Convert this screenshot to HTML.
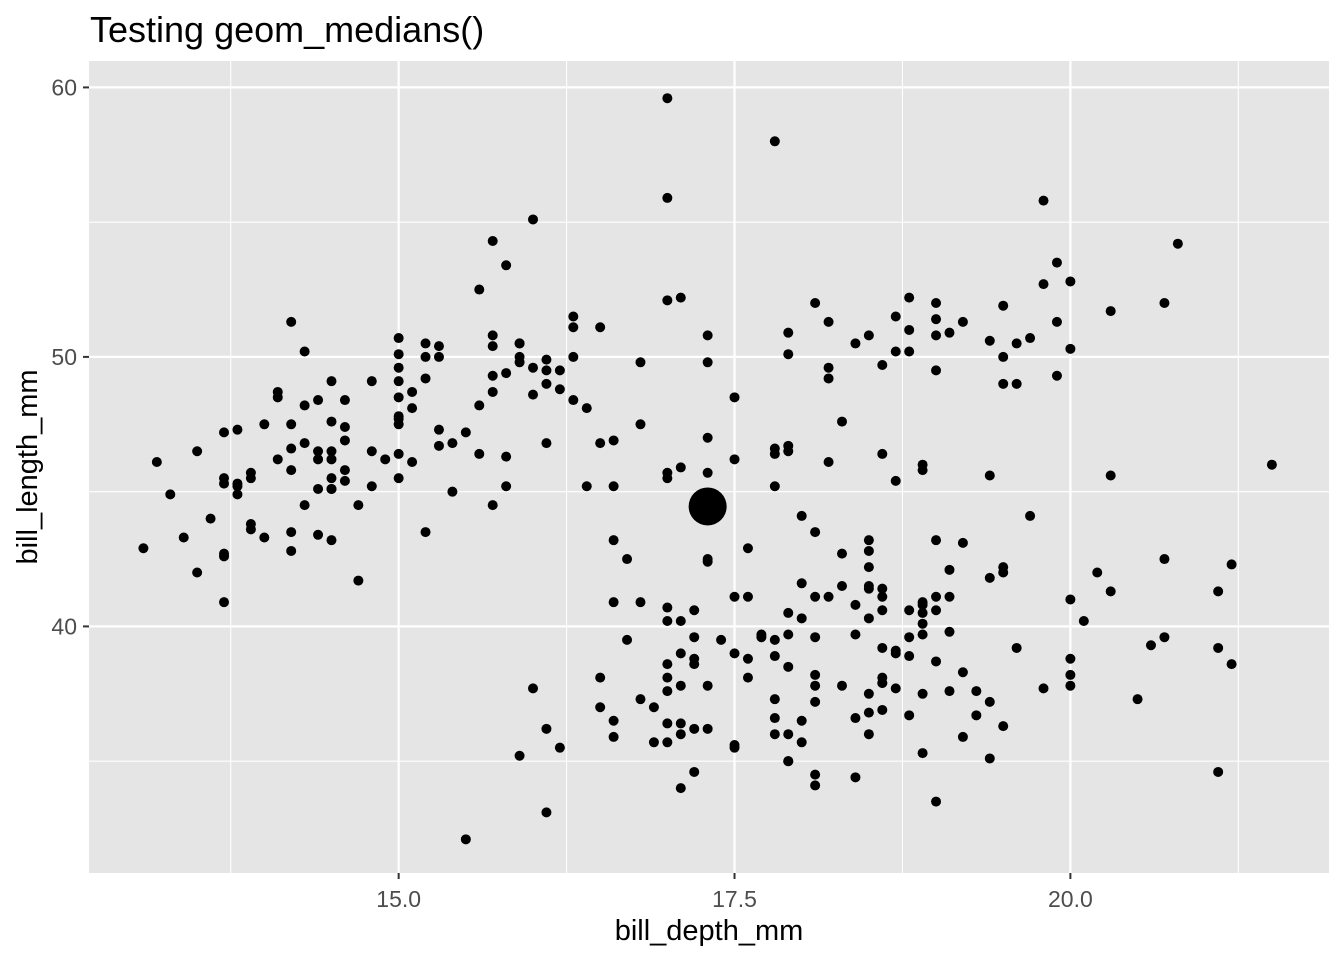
<!DOCTYPE html>
<html><head><meta charset="utf-8"><style>
html,body{margin:0;padding:0;background:#fff;}
svg{display:block;font-family:"Liberation Sans",Arial,sans-serif;}
</style></head><body>
<svg id="chart" width="1344" height="960" viewBox="0 0 1344 960">
<rect width="1344" height="960" fill="#fff"/>
<text x="90" y="42" font-size="36" fill="#000">Testing geom_medians()</text>
<rect x="89" y="61" width="1240" height="812" fill="#e5e5e5"/>
<g id="grid"></g>
<g id="points"></g>
<g id="axes"></g>
<text x="709" y="940" font-size="29" text-anchor="middle" fill="#000">bill_depth_mm</text>
<text transform="translate(37,467) rotate(-90)" font-size="29" text-anchor="middle" fill="#000">bill_length_mm</text>
</svg>
<script>
const billDepth = [18.7,17.4,18.0,19.3,20.6,17.8,19.6,18.1,20.2,17.1,17.3,17.6,21.2,21.1,17.8,19.0,20.7,18.4,21.5,18.3,18.7,19.2,18.1,17.2,18.9,18.6,17.9,18.6,18.9,16.7,18.1,17.8,18.9,17.0,21.1,20.0,18.5,19.3,19.1,18.0,18.4,18.5,19.7,16.9,18.8,19.0,18.9,17.9,21.2,17.7,18.9,17.9,19.5,18.1,18.6,17.5,18.8,16.6,19.1,16.9,21.1,17.0,18.2,17.1,18.0,16.2,19.1,16.6,19.4,19.0,18.4,17.2,18.9,17.5,18.5,16.8,19.4,16.1,19.1,17.2,17.6,18.8,19.4,17.8,20.3,19.5,18.6,19.2,18.8,18.0,18.1,17.1,18.1,17.3,18.9,18.6,18.5,16.1,18.5,17.9,20.0,16.0,20.0,18.6,18.9,17.2,20.0,17.0,19.0,16.5,20.3,17.7,19.5,20.7,18.3,17.0,20.5,17.0,18.6,17.2,19.8,17.0,18.5,15.9,19.0,17.6,18.3,17.1,18.0,17.9,19.2,18.5,18.5,17.6,17.5,17.5,20.1,16.5,17.9,17.1,17.2,15.5,17.0,16.8,18.7,18.6,18.4,17.8,18.1,17.1,18.5,
13.2,16.3,14.1,15.2,14.5,13.5,14.6,15.3,13.4,15.4,13.7,16.1,13.7,14.6,14.6,15.7,13.5,15.2,14.5,15.1,14.3,14.5,14.5,15.8,13.1,15.1,14.3,15.0,14.3,15.3,15.3,14.2,14.5,17.0,14.8,16.3,13.7,17.3,13.6,15.7,13.7,16.0,13.7,15.0,15.9,13.9,13.9,15.9,13.3,15.8,14.2,14.1,14.4,15.0,14.4,15.4,13.9,15.0,14.5,15.3,13.8,14.9,13.9,15.7,14.2,16.8,14.4,16.2,14.2,15.0,15.0,15.6,15.6,14.8,15.0,16.0,14.2,16.3,13.8,16.4,14.5,15.6,14.6,15.9,13.8,17.3,14.4,14.2,14.0,17.0,15.0,17.1,14.5,16.1,14.7,15.7,15.8,14.6,14.4,16.5,15.0,17.0,15.5,15.0,13.8,16.1,14.7,15.8,14.0,15.1,15.2,15.9,15.2,16.3,14.1,16.0,15.7,16.2,13.7,14.3,15.7,14.8,16.1,
17.9,19.5,19.2,18.7,19.8,17.8,18.2,18.2,18.9,19.9,17.8,20.3,17.3,18.1,17.1,19.6,20.0,17.8,18.6,18.2,17.3,17.5,16.6,19.4,17.9,19.0,18.4,19.0,17.8,20.0,16.6,20.8,16.7,18.8,18.6,16.8,18.3,20.7,16.6,19.9,19.5,17.5,19.1,17.0,17.9,18.5,17.9,19.6,18.7,17.3,16.4,19.0,17.3,19.7,17.3,18.8,16.6,19.9,18.8,19.4,19.5,16.5,17.0,19.8,18.1,18.2,19.0,18.7];
const billLength = [39.1,39.5,40.3,36.7,39.3,38.9,39.2,34.1,42.0,37.8,37.8,41.1,38.6,34.6,36.6,38.7,42.5,34.4,46.0,37.8,37.7,35.9,38.2,38.8,35.3,40.6,40.5,37.9,40.5,39.5,37.2,39.5,40.9,36.4,39.2,38.8,42.2,37.6,39.8,36.5,40.8,36.0,44.1,37.0,39.6,41.1,37.5,36.0,42.3,39.6,40.1,35.0,42.0,34.5,41.4,39.0,40.6,36.5,37.6,35.7,41.3,37.6,41.1,36.4,41.6,35.5,41.1,35.9,41.8,33.5,39.7,39.6,45.8,35.5,42.8,40.9,37.2,36.2,42.1,34.6,42.9,36.7,35.1,37.3,41.3,36.3,36.9,38.3,38.9,35.7,41.1,34.0,39.6,36.2,40.8,38.1,40.3,33.1,43.2,35.0,41.0,37.7,37.8,37.9,39.7,38.6,38.2,38.1,43.2,38.1,45.6,39.7,42.2,39.6,42.7,38.6,37.3,35.7,41.1,36.2,37.7,40.2,41.4,35.2,40.6,38.8,41.5,39.0,44.1,38.5,43.1,36.8,37.5,38.1,41.1,35.6,40.2,37.0,39.7,40.2,40.6,32.1,40.7,37.3,39.0,39.2,36.6,36.0,37.8,36.0,41.5,
46.1,50.0,48.7,50.0,47.6,46.5,45.4,46.7,43.3,46.8,40.9,49.0,45.5,48.4,45.8,49.3,42.0,49.2,46.2,48.7,50.2,45.1,46.5,46.3,42.9,46.1,44.5,47.8,48.2,50.0,47.3,42.8,45.1,59.6,49.1,48.4,42.6,44.4,44.0,48.7,42.7,49.6,45.3,49.6,50.5,43.6,45.5,50.5,44.9,45.2,46.6,48.5,45.1,50.1,46.5,45.0,43.8,45.5,43.2,50.4,45.3,46.2,45.7,54.3,45.8,49.8,46.2,49.5,43.5,50.7,47.7,46.4,48.2,46.5,46.4,48.6,47.5,51.1,45.2,45.2,49.1,52.5,47.4,50.0,44.9,50.8,43.4,51.3,47.5,52.1,47.5,52.2,45.5,49.5,44.5,50.8,49.4,46.9,48.4,51.1,48.5,55.9,47.2,49.1,47.3,46.8,41.7,53.4,43.3,48.1,50.5,49.8,43.5,51.5,46.2,55.1,44.5,48.8,47.2,46.8,50.4,45.2,49.9,
46.5,50.0,51.3,45.4,52.7,45.2,46.1,51.3,46.0,51.3,46.6,51.7,47.0,52.0,45.9,50.5,50.3,58.0,46.4,49.2,42.4,48.5,43.2,50.6,46.7,52.0,50.5,49.5,46.4,52.8,40.9,54.2,42.5,51.0,49.7,47.5,47.6,52.0,46.9,53.5,49.0,46.2,50.9,45.5,50.9,50.8,50.1,49.0,51.5,49.8,48.1,51.4,45.7,50.7,42.5,52.2,45.2,49.3,50.2,45.6,51.9,46.8,45.7,55.8,43.5,49.6,50.8,50.2];
const medianPoint = [17.3, 44.45];
const xMajor = [15.0, 17.5, 20.0];
const xMinor = [13.75, 16.25, 18.75, 21.25];
const yMajor = [40, 50, 60];
const yMinor = [35, 45, 55];
const xTickLabels = ["15.0", "17.5", "20.0"];
const yTickLabels = ["40", "50", "60"];

const X0=89,X1=1329,Y0=61,Y1=873;
const xDom=[12.695,21.925], yDom=[30.85,60.98];
function sx(v){return X0+(v-xDom[0])/(xDom[1]-xDom[0])*(X1-X0);}
function sy(v){return Y1-(v-yDom[0])/(yDom[1]-yDom[0])*(Y1-Y0);}
const NS="http://www.w3.org/2000/svg";
function mk(tag,attrs,parent){const e=document.createElementNS(NS,tag);for(const k in attrs)e.setAttribute(k,attrs[k]);parent.appendChild(e);return e;}
const grid=document.getElementById('grid'),pts=document.getElementById('points'),axes=document.getElementById('axes');
xMinor.forEach(v=>{const l=mk('line',{x1:sx(v),x2:sx(v),y1:Y0,y2:Y1,stroke:'#fff','stroke-width':1.1},grid);

});
yMinor.forEach(v=>{const l=mk('line',{x1:X0,x2:X1,y1:sy(v),y2:sy(v),stroke:'#fff','stroke-width':1.1},grid);

});
xMajor.forEach((v,i)=>{const l=mk('line',{x1:sx(v),x2:sx(v),y1:Y0,y2:Y1,stroke:'#fff','stroke-width':2.2},grid);


const t=mk('line',{x1:sx(v),x2:sx(v),y1:Y1,y2:Y1+6,stroke:'#333','stroke-width':2},axes);


const tx=mk('text',{x:sx(v),y:Y1+34,'font-size':23,'text-anchor':'middle',fill:'#4d4d4d'},axes);tx.textContent=xTickLabels[i];

});
yMajor.forEach((v,i)=>{const l=mk('line',{x1:X0,x2:X1,y1:sy(v),y2:sy(v),stroke:'#fff','stroke-width':2.2},grid);


const t=mk('line',{x1:X0-6,x2:X0,y1:sy(v),y2:sy(v),stroke:'#333','stroke-width':2},axes);


const tx=mk('text',{x:X0-12,y:sy(v)+8,'font-size':23,'text-anchor':'end',fill:'#4d4d4d'},axes);tx.textContent=yTickLabels[i];

});
for(let i=0;i<billDepth.length;i++){
const c=mk('circle',{cx:sx(billDepth[i]),cy:sy(billLength[i]),r:5,fill:'#000'},pts);


}
const m=mk('circle',{cx:sx(medianPoint[0]),cy:sy(medianPoint[1]),r:19,fill:'#000'},pts);


</script>
</body></html>
